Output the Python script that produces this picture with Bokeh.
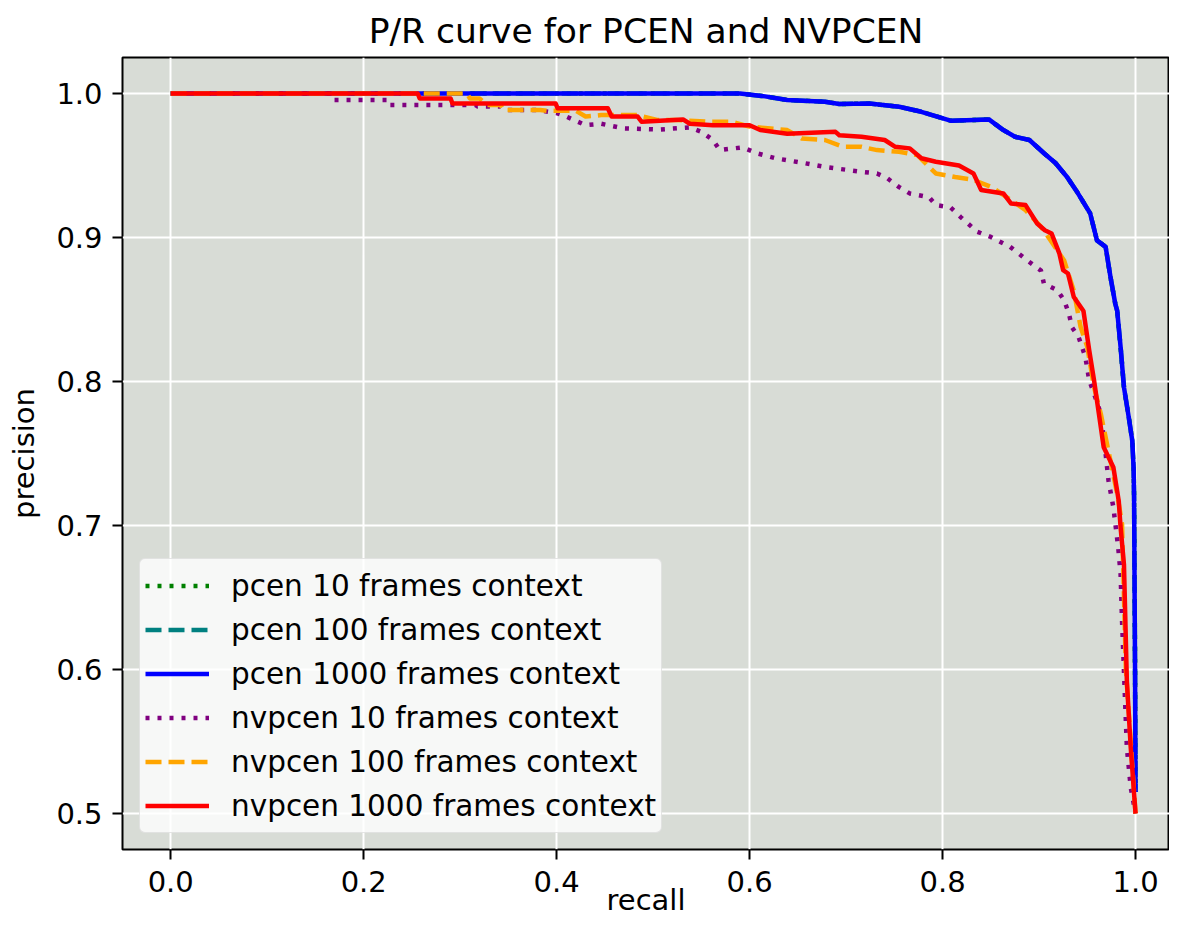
from bokeh.plotting import figure
from bokeh.models import FixedTicker, NumeralTickFormatter, Range1d
from bokeh.embed import file_html
from bokeh.resources import INLINE

title_text = "P/R curve for PCEN and NVPCEN"
x_label = "recall"
y_label = "precision"
x_ticks = [0.0, 0.2, 0.4, 0.6, 0.8, 1.0]
y_ticks = [0.5, 0.6, 0.7, 0.8, 0.9, 1.0]

# pcen 1000 frames context (blue)
pcen_1000_recall = [0.0, 0.59, 0.616, 0.639, 0.678, 0.693, 0.724, 0.755, 0.778, 0.797,
                    0.809, 0.848, 0.863, 0.875, 0.890, 0.906, 0.917, 0.929, 0.940, 0.953,
                    0.960, 0.969, 0.974, 0.979, 0.981, 0.9845, 0.988, 0.993, 0.9966, 0.998,
                    0.9985, 0.9995, 1.0]
pcen_1000_precision = [1.0, 1.0, 0.998, 0.9955, 0.9943, 0.9927, 0.993, 0.9908, 0.9873, 0.9834,
                       0.981, 0.982, 0.9746, 0.970, 0.9677, 0.958, 0.9517, 0.942, 0.931, 0.9167,
                       0.898, 0.8935, 0.8726, 0.854, 0.849, 0.824, 0.796, 0.775, 0.759, 0.740,
                       0.72, 0.60, 0.515]
# pcen 10 / 100 frames context: hidden under the blue curve
pcen_10_recall = list(pcen_1000_recall)
pcen_10_precision = list(pcen_1000_precision)
pcen_100_recall = list(pcen_1000_recall)
pcen_100_precision = list(pcen_1000_precision)

# nvpcen 10 frames context (purple)
nvpcen_10_recall = [0.0, 0.166, 0.169, 0.225, 0.226, 0.316, 0.318, 0.342, 0.345, 0.38,
                    0.40, 0.41, 0.418, 0.43, 0.446, 0.469, 0.507, 0.538, 0.55, 0.562,
                    0.569, 0.5925, 0.608, 0.627, 0.658, 0.678, 0.716, 0.732, 0.743, 0.755,
                    0.766, 0.786, 0.793, 0.808, 0.819, 0.836, 0.850, 0.870, 0.888, 0.902,
                    0.905, 0.919, 0.926, 0.931, 0.934, 0.941, 0.948, 0.952, 0.957, 0.964,
                    0.969, 0.972, 0.977, 0.982, 0.9845, 0.986, 0.991, 0.995, 1.0]
nvpcen_10_precision = [1.0, 1.0, 0.9955, 0.9955, 0.992, 0.992, 0.991, 0.991, 0.9885, 0.9885,
                       0.9864, 0.984, 0.9816, 0.978, 0.979, 0.9758, 0.975, 0.9765, 0.9734, 0.9677,
                       0.9607, 0.9626, 0.9584, 0.955, 0.9515, 0.949, 0.9456, 0.9445, 0.941, 0.935,
                       0.9306, 0.928, 0.9225, 0.921, 0.914, 0.904, 0.9004, 0.8935, 0.884, 0.877,
                       0.868, 0.8633, 0.8564, 0.8471, 0.8378, 0.8309, 0.817, 0.8008, 0.7915, 0.7776,
                       0.7498, 0.731, 0.7127, 0.685, 0.6663, 0.634, 0.5458, 0.518, 0.5]

# nvpcen 100 frames context (orange)
nvpcen_100_recall = [0.0, 0.307, 0.310, 0.320, 0.328, 0.342, 0.345, 0.383, 0.39, 0.42,
                     0.43, 0.446, 0.484, 0.504, 0.523, 0.557, 0.581, 0.600, 0.639, 0.654,
                     0.678, 0.697, 0.716, 0.732, 0.755, 0.774, 0.786, 0.793, 0.813, 0.832,
                     0.851, 0.871, 0.886, 0.902, 0.912, 0.926, 0.936, 0.943, 0.950, 0.957,
                     0.964, 0.974, 0.981, 0.986, 0.990, 0.995, 1.0]
nvpcen_100_precision = [1.0, 1.0, 0.9966, 0.9966, 0.992, 0.992, 0.9885, 0.9885, 0.988, 0.988,
                        0.984, 0.985, 0.985, 0.9816, 0.9816, 0.9804, 0.9804, 0.977, 0.9746, 0.9688,
                        0.9677, 0.963, 0.963, 0.9607, 0.9595, 0.9572, 0.949, 0.9445, 0.942, 0.940,
                        0.935, 0.926, 0.919, 0.9074, 0.898, 0.884, 0.863, 0.838, 0.824, 0.796,
                        0.7776, 0.745, 0.722, 0.701, 0.60, 0.55, 0.5]

# nvpcen 1000 frames context (red)
nvpcen_1000_recall = [0.0, 0.256, 0.258, 0.290, 0.292, 0.399, 0.401, 0.438, 0.446, 0.453,
                      0.457, 0.484, 0.488, 0.531, 0.538, 0.562, 0.600, 0.611, 0.639, 0.689,
                      0.693, 0.716, 0.740, 0.751, 0.766, 0.778, 0.793, 0.817, 0.832, 0.840,
                      0.863, 0.871, 0.886, 0.898, 0.906, 0.913, 0.921, 0.925, 0.930, 0.936,
                      0.946, 0.952, 0.957, 0.962, 0.967, 0.977, 0.9826, 0.9845, 0.988, 0.991,
                      0.995, 1.0]
nvpcen_1000_precision = [1.0, 1.0, 0.9966, 0.9966, 0.993, 0.993, 0.9897, 0.9897, 0.9897, 0.9897,
                         0.984, 0.984, 0.9804, 0.982, 0.979, 0.978, 0.978, 0.9746, 0.972, 0.9734,
                         0.971, 0.970, 0.9677, 0.963, 0.9619, 0.955, 0.9526, 0.950, 0.9445, 0.933,
                         0.9306, 0.9236, 0.9225, 0.9097, 0.905, 0.9028, 0.889, 0.8773, 0.875, 0.8587,
                         0.849, 0.8216, 0.8008, 0.7776, 0.7544, 0.7405, 0.717, 0.6988, 0.673, 0.592,
                         0.546, 0.5]

series = [
    ("pcen 10 frames context", pcen_10_recall, pcen_10_precision, "green", "4 8"),
    ("pcen 100 frames context", pcen_100_recall, pcen_100_precision, "teal", "16 7"),
    ("pcen 1000 frames context", pcen_1000_recall, pcen_1000_precision, "blue", "solid"),
    ("nvpcen 10 frames context", nvpcen_10_recall, nvpcen_10_precision, "purple", "4 8"),
    ("nvpcen 100 frames context", nvpcen_100_recall, nvpcen_100_precision, "orange", "16 7"),
    ("nvpcen 1000 frames context", nvpcen_1000_recall, nvpcen_1000_precision, "red", "solid"),
]

FONT = "DejaVu Sans"

p = figure(width=1169, height=925, output_backend="svg", toolbar_location=None,
           x_range=Range1d(-0.05, 1.0352), y_range=Range1d(0.475, 1.025),
           min_border_left=122, min_border_right=0, min_border_top=57, min_border_bottom=76,
           title=title_text)

p.background_fill_color = "#d8dcd6"
p.border_fill_color = "white"
p.outline_line_color = "black"
p.outline_line_width = 2

p.title.align = "center"
p.title.text_font = FONT
p.title.text_font_size = "34.5px"
p.title.text_font_style = "normal"
p.title.text_color = "black"
p.title.standoff = 14

for line_label, xs, ys, color, dash in series:
    p.line(xs, ys, line_color=color, line_width=4.5, line_dash=dash,
           line_join="round", legend_label=line_label)

for ax in (p.xaxis[0], p.yaxis[0]):
    ax.axis_line_color = None
    ax.major_tick_line_color = "black"
    ax.major_tick_line_width = 2
    ax.major_tick_out = 10
    ax.major_tick_in = 0
    ax.minor_tick_line_color = None
    ax.major_label_text_font = FONT
    ax.major_label_text_font_size = "29px"
    ax.major_label_text_color = "black"
    ax.axis_label_text_font = FONT
    ax.axis_label_text_font_size = "29px"
    ax.axis_label_text_font_style = "normal"
    ax.axis_label_text_color = "black"
    ax.formatter = NumeralTickFormatter(format="0.0")

p.xaxis[0].ticker = FixedTicker(ticks=x_ticks)
p.yaxis[0].ticker = FixedTicker(ticks=y_ticks)
p.xaxis[0].axis_label = x_label
p.yaxis[0].axis_label = y_label
p.xaxis[0].major_label_standoff = 11
p.xaxis[0].axis_label_standoff = -12
p.yaxis[0].major_label_standoff = 10
p.yaxis[0].axis_label_standoff = 12

p.grid.grid_line_color = "white"
p.grid.grid_line_width = 2
p.xgrid.ticker = FixedTicker(ticks=x_ticks)
p.ygrid.ticker = FixedTicker(ticks=y_ticks)

lg = p.legend[0]
lg.location = (17, 16)
lg.label_text_font = FONT
lg.label_text_font_size = "29.5px"
lg.label_text_color = "black"
lg.glyph_width = 64
lg.glyph_height = 43
lg.label_height = 43
lg.label_standoff = 22
lg.spacing = 1
lg.padding = 5
lg.margin = 0
lg.background_fill_color = "white"
lg.background_fill_alpha = 0.8
lg.border_line_color = "#cccccc"
lg.border_line_width = 1.5
if "border_radius" in lg.properties():
    lg.border_radius = 6

open("out.html", "w").write(file_html(p, INLINE))
